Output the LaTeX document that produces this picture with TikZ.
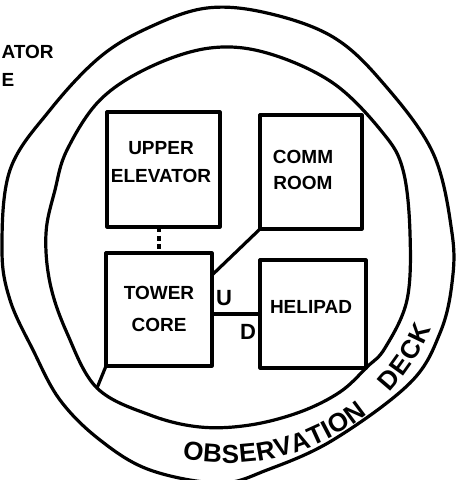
\documentclass[tikz,border=0pt]{standalone}
\usepackage{fontspec}
\setmainfont{Liberation Sans}
\usetikzlibrary{decorations.text,calc}
\newcommand\obsfont{\bfseries\fontsize{26}{30}\selectfont}
\begin{document}
\begin{tikzpicture}[x=1pt,y=-1pt,
  line width=3.2pt, line cap=round, line join=round,
  room/.style={draw, rectangle, inner sep=0pt, outer sep=0pt},
  lbl/.style={align=center, font=\bfseries\fontsize{19}{28}\selectfont, inner sep=0pt},
  small/.style={font=\bfseries\fontsize{22}{24}\selectfont, inner sep=0pt},
  ring/.style={draw, line width=3.2pt}]
\useasboundingbox (0,0) rectangle (459,480);

% outer ring
\draw[ring] plot[smooth cycle, tension=0.6] coordinates {
 (207,8) (267,13) (333,37) (383,83) (433,153) (452,233) (452,283) (440,333)
 (410,383) (333,440) (267,470) (220,483) (150,470) (100,440) (60,400)
 (33,350) (10,300) (2,250) (10,170) (50,110) (100,57) (150,27)};
% inner ring
\draw[ring] plot[smooth cycle, tension=0.6] coordinates {
 (210,48) (267,53) (333,83) (383,133) (403,170) (410,233) (407,300) (385,348)
 (367,367) (340,392) (300,412) (250,425) (200,427) (150,415) (97,388)
 (67,333) (50,283) (46,233) (55,190) (67,150) (100,100) (150,67)};

% rooms
\node[room, minimum width=113pt, minimum height=115pt] (ue) at (163.5,169.5) {};
\node[room, minimum width=102pt, minimum height=114pt] (cr) at (311,172) {};
\node[room, minimum width=106pt, minimum height=113pt] (tc) at (159,309.5) {};
\node[room, minimum width=106pt, minimum height=108pt] (hp) at (313,314) {};

% labels
\node[lbl] (uel) at (161,162) {UPPER\\ELEVATOR};
\node[lbl, font=\bfseries\fontsize{19}{26}\selectfont] (crl) at (303,170) {COMM\\ROOM};
\node[lbl, font=\bfseries\fontsize{19}{32}\selectfont] (tcl) at (159,309) {TOWER\\CORE};
\node[lbl] (hpl) at (311,307) {HELIPAD};
\node[small] (u) at (224,298) {U};
\node[small] (d) at (248,332) {D};

% partial text at top left
\node[lbl, anchor=west] (t1) at (0,52) {ATOR};
\node[lbl, anchor=west] (t2) at (0,80) {E};

% connectors
\draw[dash pattern=on 5pt off 3.5pt, line cap=butt] (ue.south -| tc.north) -- (tc.north);
\draw (cr.south west) -- (tc.33);
\draw (hp.west -| tc.east) -- (hp.west);
\coordinate (ic) at (97,388);
\draw (tc.south west) -- (ic);

% curved text
\coordinate (c) at (228,242);
\path[decorate, decoration={text along path, text align=fit to path,
   text={|\obsfont|OBSERVATION}}]
   (c) ++(102:221) arc[start angle=102, end angle=51, radius=221];
\path[decorate, decoration={text along path, text align=fit to path,
   text={|\obsfont|DECK}}]
   (c) ++(43:221) arc[start angle=43, end angle=23, radius=221];
\end{tikzpicture}
\end{document}
